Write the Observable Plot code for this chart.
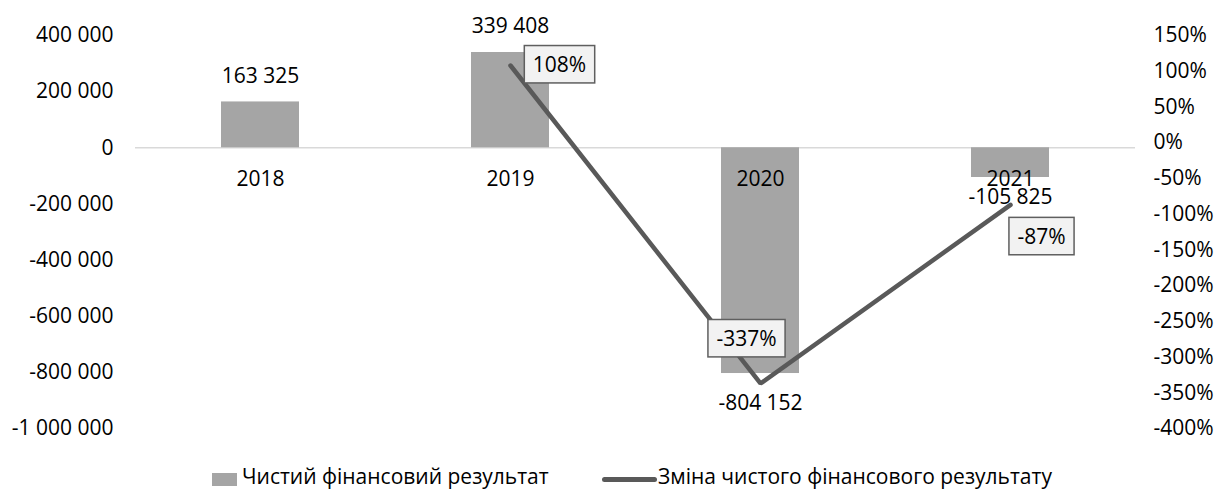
<!DOCTYPE html>
<html><head><meta charset="utf-8">
<script src="https://cdn.jsdelivr.net/npm/d3@7"></script>
<script src="https://cdn.jsdelivr.net/npm/@observablehq/plot@0.6"></script>
<style>
body{margin:0;background:#fff;font-family:"Open Sans",sans-serif;overflow:hidden;}
#legend{position:relative;width:1216px;height:38px;font-size:21px;color:#000;}
#legend .sw{position:absolute;left:212px;top:21px;width:25px;height:13px;background:#a5a5a5;}
#legend .ln{position:absolute;left:602px;top:25px;width:55px;height:5px;border-radius:3px;background:#595959;}
#legend .t{position:absolute;top:13px;line-height:22px;white-space:nowrap;}
</style></head><body>
<div id="chart"></div>
<div id="legend"></div>
<script>
// ---- data ----
const years = ["2018", "2019", "2020", "2021"];
const netResult = [163325, 339408, -804152, -105825];
const changeYears = ["2019", "2020", "2021"];
const changePct = [108, -337, -87];
const leftTicks = [400000, 200000, 0, -200000, -400000, -600000, -800000, -1000000];
const rightTicks = [150, 100, 50, 0, -50, -100, -150, -200, -250, -300, -350, -400];
const seriesNames = ["Чистий фінансовий результат", "Зміна чистого фінансового результату"];

// ---- helpers ----
const yMin = -1000000, yMax = 400000, pMin = -400, pMax = 150;
const toY = p => yMin + (p - pMin) / (pMax - pMin) * (yMax - yMin);
const fromY = v => pMin + (v - yMin) / (yMax - yMin) * (pMax - pMin);
const fmt = v => d3.format(",")(v).replace(/,/g, " ").replace("\u2212", "-");

const bars = years.map((y, i) => ({year: y, value: netResult[i]}));
const change = changeYears.map((y, i) => ({year: y, pct: changePct[i], v: toY(changePct[i])}));
const pctText = d => d.pct + "%";

const font = '"Open Sans", sans-serif';
const pctOffsets = [[49, 0], [-14, -44], [31, 32.5]];
const valueOffsets = [-25.5, -26, 29.5, 20];

const chart = Plot.plot({
  width: 1216, height: 452,
  marginLeft: 135, marginRight: 81, marginTop: 35, marginBottom: 24,
  style: {fontFamily: font, fontSize: "21px", color: "#000", background: "#fff", overflow: "visible"},
  x: {domain: years, padding: 0, axis: null},
  y: {domain: [yMin, yMax], axis: null},
  marks: [
    Plot.ruleY([0], {stroke: "#d9d9d9", strokeWidth: 1.5}),
    Plot.barY(bars, {x: "year", y: "value", fill: "#a5a5a5", insetLeft: 86, insetRight: 86}),
    Plot.axisY({anchor: "left", ticks: leftTicks, tickSize: 0, tickPadding: 22, tickFormat: fmt, fontSize: 21, fill: "#000"}),
    Plot.axisY({anchor: "right", ticks: rightTicks.map(toY), tickSize: 0, tickPadding: 18,
      tickFormat: d => Math.round(fromY(d)) + "%", fontSize: 21, fill: "#000"}),
    Plot.text(bars, {x: "year", y: () => 0, text: "year", dy: 31, fontSize: 21, fill: "#000"}),
    ...bars.map((d, i) => Plot.text([d], {x: "year", y: "value", text: d => fmt(d.value), dy: valueOffsets[i], fontSize: 21, fill: "#000"})),
    Plot.line(change, {x: "year", y: "v", stroke: "#595959", strokeWidth: 4.5, strokeLinejoin: "miter"}),
    ...change.map((d, i) => Plot.text([d], {
      x: "year", y: "v", text: pctText, dx: pctOffsets[i][0], dy: pctOffsets[i][1],
      fontSize: 21, fill: "#000"
    }))
  ]
});
document.getElementById("chart").appendChild(chart);

// boxes behind percentage labels
const labelSet = new Set(change.map(pctText));
const padX = 8.5, padY = 4.7;
Array.from(chart.querySelectorAll("text")).filter(t => labelSet.has(t.textContent.trim())).forEach(t => {
  const b = t.getBBox();
  const r = document.createElementNS("http://www.w3.org/2000/svg", "rect");
  r.setAttribute("x", b.x - padX);
  r.setAttribute("y", b.y - padY);
  r.setAttribute("width", b.width + 2 * padX);
  r.setAttribute("height", b.height + 2 * padY);
  r.setAttribute("fill", "#f2f2f2");
  r.setAttribute("stroke", "#5f5f5f");
  r.setAttribute("stroke-width", "1.5");
  if (t.getAttribute("transform")) r.setAttribute("transform", t.getAttribute("transform"));
  t.parentNode.insertBefore(r, t);
});

// legend
const lg = document.getElementById("legend");
lg.innerHTML = `<div class="sw"></div><div class="t" style="left:242px">${seriesNames[0]}</div>
<div class="ln"></div><div class="t" style="left:658px">${seriesNames[1]}</div>`;
</script>
</body></html>
